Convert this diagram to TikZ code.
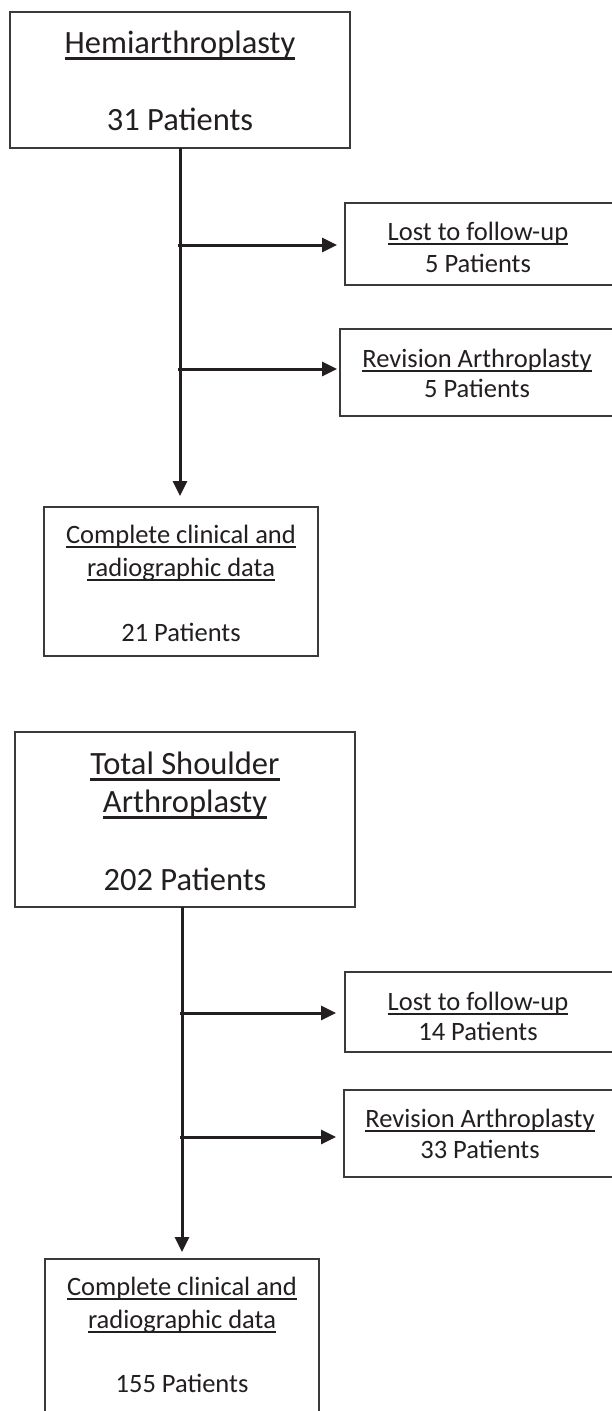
\documentclass[tikz,border=0pt]{standalone}
\usepackage{fontspec}
\setmainfont{Carlito}
\usetikzlibrary{arrows.meta}
\definecolor{ink}{HTML}{231F20}
\definecolor{frame}{HTML}{3A3A3A}
\newcommand\ulbig[1]{{\setbox0=\hbox{#1}\rlap{\rule[-7.2pt]{\wd0}{2.8pt}}\box0}}
\newcommand\ulsmall[1]{{\setbox0=\hbox{#1}\rlap{\rule[-4.8pt]{\wd0}{2pt}}\box0}}
\begin{document}
\begin{tikzpicture}[x=1pt,y=-1pt,
 box/.style={draw=frame,line width=1.4pt,inner sep=0pt,outer sep=0pt},
 big/.style={anchor=base,inner sep=0pt,text=ink,font=\fontsize{32.5}{39}\selectfont},
 small/.style={anchor=base,inner sep=0pt,text=ink,font=\fontsize{26.5}{32}\selectfont},
 arr/.style={draw=ink,line width=3pt,-{Triangle[length=15pt,width=14pt]}}]
\useasboundingbox[fill=white] (0,0) rectangle (611,1411);
% boxes, section 1
\node[box,minimum width=340pt,minimum height=136pt] (h1) at (180,80) {};
\node[box,minimum width=268pt,minimum height=82pt] (l1) at (479,244) {};
\node[box,minimum width=273pt,minimum height=87pt] (r1) at (476.5,372.5) {};
\node[box,minimum width=274pt,minimum height=149pt] (c1) at (181,581.5) {};
% boxes, section 2
\node[box,minimum width=340pt,minimum height=175pt] (h2) at (185,819.5) {};
\node[box,minimum width=268pt,minimum height=80pt] (l2) at (479,1012) {};
\node[box,minimum width=269pt,minimum height=87pt] (r2) at (478.5,1133.5) {};
\node[box,minimum width=274pt,minimum height=171pt] (c2) at (182,1344.5) {};
% texts, section 1
\node[big] (t1a) at (180,53) {\ulbig{Hemiarthroplasty}};
\node[big] (t1b) at (180,130) {31 Patients};
\node[small] (l1a) at (478,240) {\ulsmall{Lost to follow-up}};
\node[small] (l1b) at (478,272) {5 Patients};
\node[small] (r1a) at (477,367) {\ulsmall{Revision Arthroplasty}};
\node[small] (r1b) at (477,397) {5 Patients};
\node[small] (c1a) at (181,543) {\ulsmall{Complete clinical and}};
\node[small] (c1b) at (181,576) {\ulsmall{radiographic data}};
\node[small] (c1c) at (181,641) {21 Patients};
% texts, section 2
\node[big] (t2a) at (185,774) {\ulbig{Total Shoulder}};
\node[big] (t2b) at (185,812) {\ulbig{Arthroplasty}};
\node[big] (t2c) at (185,890) {202 Patients};
\node[small] (l2a) at (478,1010) {\ulsmall{Lost to follow-up}};
\node[small] (l2b) at (478,1040) {14 Patients};
\node[small] (r2a) at (480,1127) {\ulsmall{Revision Arthroplasty}};
\node[small] (r2b) at (480,1158) {33 Patients};
\node[small] (c2a) at (182,1295) {\ulsmall{Complete clinical and}};
\node[small] (c2b) at (182,1328) {\ulsmall{radiographic data}};
\node[small] (c2c) at (182,1392) {155 Patients};
% connectors, section 1
\coordinate (v1) at (180,148);
\draw[arr,shorten >=11pt] (v1) -- (v1 |- c1.north);
\coordinate (j1) at (178,245);
\coordinate (j2) at (178,369);
\draw[arr,shorten >=8pt] (j1) -- (j1 -| l1.west);
\draw[arr,shorten >=3pt] (j2) -- (j2 -| r1.west);
% connectors, section 2
\coordinate (v2) at (182,907);
\draw[arr,shorten >=7pt] (v2) -- (v2 |- c2.north);
\coordinate (j3) at (180,1013);
\coordinate (j4) at (180,1137);
\draw[arr,shorten >=9pt] (j3) -- (j3 -| l2.west);
\draw[arr,shorten >=8pt] (j4) -- (j4 -| r2.west);
\end{tikzpicture}
\end{document}
